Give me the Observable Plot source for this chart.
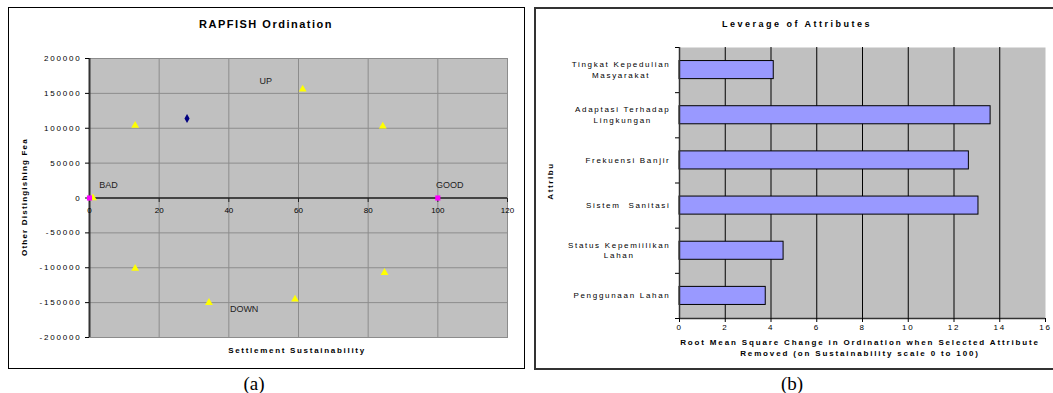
<!DOCTYPE html>
<html>
<head>
<meta charset="utf-8">
<script src="https://cdn.jsdelivr.net/npm/d3@7"></script>
<script src="https://cdn.jsdelivr.net/npm/@observablehq/plot@0.6"></script>
<style>
  body { margin: 0; background: #fff; }
  #page { position: relative; width: 1053px; height: 393px; overflow: hidden; background: #fff;
          font-family: "Liberation Sans", Arial, sans-serif; color: #000; }
  .panel { position: absolute; box-sizing: border-box; }
  #panelA { left: 8px; top: 7px; width: 517px; height: 362px; border: 1px solid #000; }
  #panelB { left: 534px; top: 7px; width: 540px; height: 363px; border: 2px solid #333; }
  .lbl { position: absolute; white-space: nowrap; line-height: 1; transform: translate(-50%, -50%); text-align: center; }
  .rot { transform: translate(-50%, -50%) rotate(-90deg); }
  .bold { font-weight: bold; }
  .cap { font-family: "Liberation Serif", "Times New Roman", serif; font-size: 19px; }
  .chart { position: absolute; }
  .chart svg { overflow: visible; }
  #chartA g[aria-label="y-axis tick label"] { letter-spacing: 1.8px; }
  #chartA g[aria-label="x-tick-labels"] { letter-spacing: 1.7px; }
  #chartA g[aria-label="zone-notes"] { letter-spacing: 2px; }
  #chartB g[aria-label="y-axis tick label"] { letter-spacing: 1.7px; }
  #chartB g[aria-label="x-axis tick label"] { letter-spacing: 1.7px; }
</style>
</head>
<body>
<div id="page">
  <div class="panel" id="panelA"></div>
  <div class="panel" id="panelB"></div>

  <div class="lbl bold" style="left:266px;top:24px;font-size:11px;letter-spacing:1.5px;">RAPFISH Ordination</div>
  <div class="lbl bold rot" style="left:25px;top:197px;font-size:8px;letter-spacing:1.2px;">Other Distingishing Fea</div>
  <div class="lbl bold" style="left:297px;top:351px;font-size:8px;letter-spacing:1.7px;">Settlement Sustainability</div>
  <div class="lbl cap" style="left:254px;top:383px;">(a)</div>

  <div class="lbl bold" style="left:797px;top:24px;font-size:9px;letter-spacing:2.5px;">Leverage of Attributes</div>
  <div class="lbl bold rot" style="left:551px;top:181px;font-size:8px;letter-spacing:1.6px;">Attribu</div>
  <div class="lbl bold" style="left:860px;top:343px;font-size:8px;letter-spacing:1.85px;">Root Mean Square Change in Ordination when Selected Attribute</div>
  <div class="lbl bold" style="left:860px;top:354px;font-size:8px;letter-spacing:1.85px;">Removed (on Sustainability scale 0 to 100)</div>
  <div class="lbl cap" style="left:792px;top:383px;">(b)</div>

  <div class="chart" id="chartA" style="left:0;top:0;"></div>
  <div class="chart" id="chartB" style="left:536px;top:0;"></div>
</div>

<script>
const FONT = '"Liberation Sans", Arial, sans-serif';

// ---- (a) RAPFISH ordination ----
const xTicksA = [0, 20, 40, 60, 80, 100, 120];
const yTicksA = [-200000, -150000, -100000, -50000, 0, 50000, 100000, 150000, 200000];

// anchor points (yellow triangles)
const anchorX = [1, 13.1, 61.2, 84.2, 13.1, 34.3, 59.0, 84.7];
const anchorY = [0, 104000, 156000, 103000, -101000, -150000, -145000, -107000];
// reference points BAD / GOOD (magenta squares)
const refX = [0, 100];
const refY = [0, 0];
// the settlement being assessed (navy diamond)
const siteX = [28.0];
const siteY = [114000];
// zone notes
const noteText = ["UP", "BAD", "GOOD", "DOWN"];
const noteX = [48.8, 2.8, 99.5, 40.3];
const noteY = [167000, 18400, 18400, -160000];

const anchors = anchorX.map((x, i) => ({x, y: anchorY[i]}));
const refs = refX.map((x, i) => ({x, y: refY[i]}));
const sites = siteX.map((x, i) => ({x, y: siteY[i]}));
const notes = noteText.map((t, i) => ({t, x: noteX[i], y: noteY[i]}));

// short downward tick drawn at each x value on the zero line
const downTick = {draw(ctx) { ctx.moveTo(0, 0); ctx.lineTo(0, 4); }};

const chartA = Plot.plot({
  width: 525, height: 368,
  marginLeft: 89, marginRight: 18, marginTop: 58, marginBottom: 31,
  style: {background: "transparent", fontFamily: FONT, fontSize: "8px", color: "#000", overflow: "visible"},
  x: {domain: [0, 120], axis: null},
  y: {domain: [-200000, 200000]},
  marks: [
    Plot.frame({fill: "#C0C0C0", stroke: "#8c8c8c"}),
    Plot.gridX(xTicksA, {stroke: "#8c8c8c", strokeOpacity: 1}),
    Plot.gridY(yTicksA, {stroke: "#8c8c8c", strokeOpacity: 1}),
    Plot.ruleY([0], {stroke: "#222", strokeWidth: 1.5}),
    Plot.ruleX([0], {stroke: "#333", strokeWidth: 2}),
    Plot.dot(xTicksA, {x: d => d, y: 0, symbol: downTick, stroke: "#222", fill: "none", strokeWidth: 1}),
    Plot.text(xTicksA, {x: d => d, y: 0, dy: 12.5, text: d => String(d), ariaLabel: "x-tick-labels"}),
    Plot.axisY(yTicksA, {tickSize: 4, tickPadding: 4, tickFormat: d => String(d), stroke: "#000", label: null}),
    Plot.text(notes, {x: "x", y: "y", text: "t", textAnchor: "start", fontSize: 9, fill: "#222", ariaLabel: "zone-notes"}),
    Plot.dot(anchors, {x: "x", y: "y", symbol: "triangle", r: 2.9, fill: "#FFFF00"}),
    Plot.dot(refs, {x: "x", y: "y", symbol: "square", r: 2.9, fill: "#FF00FF"}),
    Plot.dot(sites, {x: "x", y: "y", symbol: "diamond", r: 2.7, fill: "#000080"})
  ]
});
document.getElementById("chartA").append(chartA);

// ---- (b) leverage of attributes ----
const attrNames = [
  "Tingkat Kepedulian\nMasyarakat",
  "Adaptasi Terhadap\nLingkungan",
  "Frekuensi Banjir",
  "Sistem  Sanitasi",
  "Status Kepemiilikan\nLahan",
  "Penggunaan Lahan"
];
const leverage = [4.12, 13.6, 12.65, 13.07, 4.55, 3.77];
const xTicksB = [0, 2, 4, 6, 8, 10, 12, 14, 16];

const rows = attrNames.map((name, i) => ({name, value: leverage[i], i}));
const n = attrNames.length;

const chartB = Plot.plot({
  width: 517, height: 369,
  marginLeft: 143, marginRight: 8, marginTop: 47, marginBottom: 51,
  style: {background: "transparent", fontFamily: FONT, fontSize: "8px", color: "#000", overflow: "visible"},
  x: {domain: [0, 16]},
  y: {domain: [0, n], reverse: true},
  marks: [
    Plot.frame({fill: "#C0C0C0"}),
    Plot.gridX(xTicksB.slice(1, -1), {stroke: "#000", strokeOpacity: 1}),
    Plot.rectX(rows, {x1: 0, x2: "value", y1: d => d.i + 0.3, y2: d => d.i + 0.7, fill: "#9999FF", stroke: "#000", strokeWidth: 1}),
    Plot.ruleX([0], {stroke: "#333", strokeWidth: 1.5}),
    Plot.ruleY([n], {stroke: "#333", strokeWidth: 1.5}),
    Plot.axisX(xTicksB, {tickSize: 4, tickPadding: 2, tickFormat: d => String(d), stroke: "#000", label: null}),
    Plot.axisY(d3.range(n + 1), {tickSize: 4, tickFormat: () => "", stroke: "#000", label: null}),
    Plot.axisY(d3.range(n).map(i => i + 0.5), {tickSize: 0, tickPadding: 9, dy: -1, lineHeight: 1.3,
      tickFormat: t => attrNames[Math.floor(t)], label: null})
  ]
});
document.getElementById("chartB").append(chartB);

// two-line category labels: block right-aligned, lines centred within it
chartB.querySelectorAll('g[aria-label="y-axis tick label"] text').forEach(t => {
  const spans = t.querySelectorAll("tspan");
  if (spans.length < 2) return;
  const w = Math.max(...Array.from(spans, s => s.getComputedTextLength()));
  const x0 = +(t.getAttribute("x") || 0);
  t.setAttribute("text-anchor", "middle");
  spans.forEach(s => s.setAttribute("x", x0 - w / 2));
});
</script>
</body>
</html>
